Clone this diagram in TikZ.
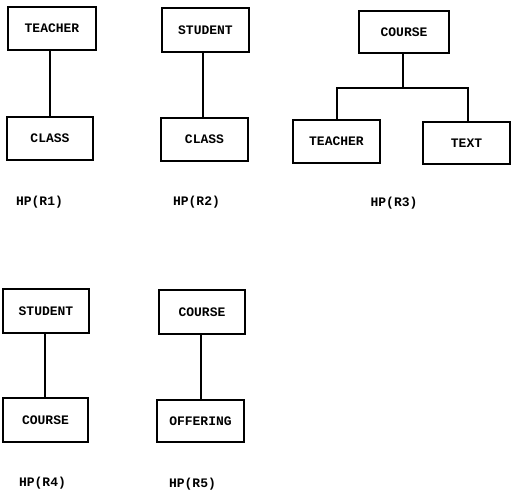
\documentclass[tikz,border=0pt]{standalone}
\usepackage{fontspec}
\setmonofont{Liberation Mono}
\begin{document}
\begin{tikzpicture}[x=1pt,y=-1pt,
  ent/.style={draw, line width=1.2pt, inner sep=0pt, font=\ttfamily\bfseries\fontsize{13}{15}\selectfont},
  lbl/.style={inner sep=0pt, font=\ttfamily\bfseries\fontsize{13}{15}\selectfont},
  link/.style={line width=1.4pt}]
\useasboundingbox (0,0) rectangle (511,490);
% R1
\node[ent, minimum width=88pt, minimum height=43pt] (t1) at (52,28.5) {TEACHER};
\node[ent, minimum width=86pt, minimum height=43pt] (c1) at (50,138.5) {CLASS};
\draw[link] (c1.north) -- (c1.north |- t1.south);
\node[lbl] (h1) at (39.5,202) {HP(R1)};
% R2
\node[ent, minimum width=87pt, minimum height=44pt] (s2) at (205.5,30) {STUDENT};
\node[ent, minimum width=87pt, minimum height=43pt] (c2) at (204.5,139.5) {CLASS};
\draw[link] ([xshift=-1.5pt]c2.north) -- ([xshift=-1.5pt]c2.north |- s2.south);
\node[lbl] (h2) at (196.5,202) {HP(R2)};
% R3
\node[ent, minimum width=90pt, minimum height=42pt] (co3) at (404,32) {COURSE};
\node[ent, minimum width=87pt, minimum height=43pt] (t3) at (336.5,141.5) {TEACHER};
\node[ent, minimum width=87pt, minimum height=42pt] (x3) at (466.5,143) {TEXT};
\coordinate (b3) at (403,88);
\coordinate (l3) at (337,88);
\coordinate (r3) at (468,88);
\draw[link] (b3 |- co3.south) -- (b3);
\draw[link] (l3 |- t3.north) -- (l3) -- (r3) -- (r3 |- x3.north);
\node[lbl] (h3) at (394,203) {HP(R3)};
% R4
\node[ent, minimum width=86pt, minimum height=44pt] (s4) at (46,311) {STUDENT};
\node[ent, minimum width=85pt, minimum height=44pt] (c4) at (45.5,420) {COURSE};
\draw[link] ([xshift=-0.5pt]c4.north) -- ([xshift=-0.5pt]c4.north |- s4.south);
\node[lbl] (h4) at (42.5,483) {HP(R4)};
% R5
\node[ent, minimum width=86pt, minimum height=44pt] (c5) at (202,312) {COURSE};
\node[ent, minimum width=87pt, minimum height=42pt] (o5) at (200.5,421) {OFFERING};
\draw[link] ([xshift=0.5pt]o5.north) -- ([xshift=0.5pt]o5.north |- c5.south);
\node[lbl] (h5) at (192.5,484) {HP(R5)};
\end{tikzpicture}
\end{document}
